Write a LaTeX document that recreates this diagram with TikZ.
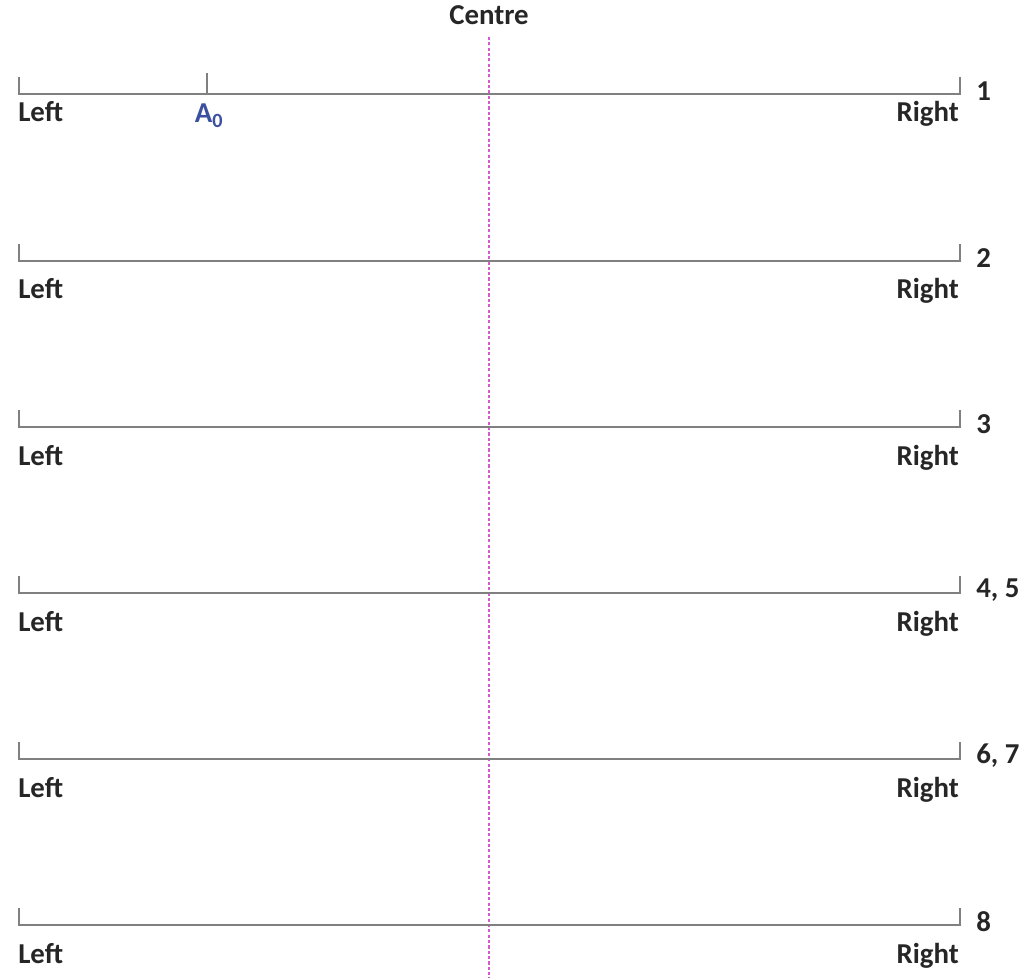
\documentclass[tikz,border=0pt]{standalone}
\usepackage{fontspec}
\setmainfont{Carlito}
\usepackage{xcolor}
\usepackage{tikz}
\usetikzlibrary{positioning,calc}
\definecolor{rulegray}{RGB}{128,128,128}
\definecolor{centremag}{RGB}{212,90,205}
\definecolor{markblue}{RGB}{60,80,160}

\begin{document}
\begin{tikzpicture}[
      x=0.025cm, y=-0.025cm,
      scale line/.style={draw=rulegray, line width=1.2pt},
      centre line/.style={draw=centremag, line width=0.8pt, dash pattern=on 2.2pt off 1.6pt},
      endlbl/.style={font=\fontsize{20.5}{24}\selectfont\bfseries, text=black!85, inner sep=0pt},
      numlbl/.style={font=\fontsize{20.5}{24}\selectfont\bfseries, text=black!85, inner sep=0pt, anchor=west},
      marklbl/.style={font=\fontsize{20.5}{24}\selectfont\bfseries, text=markblue, inner sep=0pt}
    ]
      \useasboundingbox (0,0) rectangle (1033,978);

      % centre reference
      \node[endlbl] (centre) at (489,15) {Centre};
      \coordinate (ctop) at (489,37);
      \coordinate (cbot) at (489,978);
      \draw[centre line] (ctop) -- (cbot);

      % the six scales
      \foreach \row/\yy/\dy/\num in {1/94/28/1, 2/261/38/2, 3/427/38/3, 4/593/38/{4, 5}, 5/759/38/{6, 7}, 6/925/38/8} {
        \coordinate (l\row) at (19,\yy);
        \coordinate (r\row) at (960,\yy);
        \coordinate (lt\row) at (19,\yy-17);
        \coordinate (rt\row) at (960,\yy-17);
        \draw[scale line] (lt\row) -- (l\row) -- (r\row) -- (rt\row);
        \node[endlbl, anchor=base west] (left\row) at (18,\yy+\dy) {Left};
        \node[endlbl, anchor=base east] (right\row) at (959,\yy+\dy) {Right};
        \node[numlbl] (num\row) at (976,\yy-3) {\num};
      }

      % starting mark on the first scale
      \coordinate (a0) at (207,94);
      \coordinate (a0t) at (207,73);
      \draw[scale line] (a0t) -- (a0);
      \node[marklbl, anchor=base] (a0lbl) at (209,123) {A\textsubscript{0}};
    \end{tikzpicture}
\end{document}
